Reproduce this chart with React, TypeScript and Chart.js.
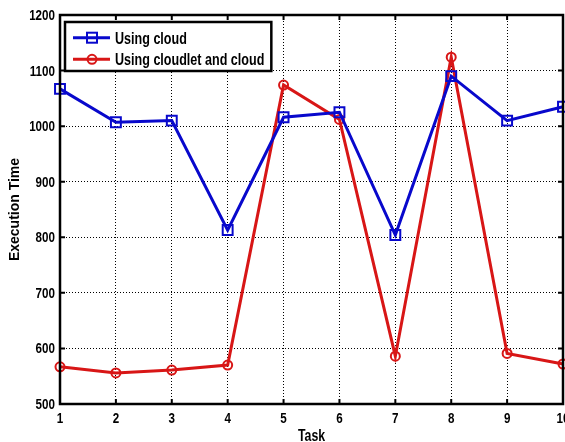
import React, { useEffect, useRef } from "react";
import { Chart, registerables } from "chart.js";

Chart.register(...registerables);

const tasks = ["1", "2", "3", "4", "5", "6", "7", "8", "9", "10"];
const cloudTimes = [1067, 1007, 1010, 813, 1016, 1025, 804, 1090, 1010, 1035];
const cloudletTimes = [567, 556, 561, 570, 1074, 1012, 586, 1124, 591, 572];
const seriesLabels = ["Using cloud", "Using cloudlet and cloud"];
const yMin = 500;
const yMax = 1200;
const yStep = 100;
const xTitle = "Task";
const yTitle = "Execution Time";

const SANS = '"Liberation Sans", Arial, sans-serif';
const BLUE = "#0808cc";
const RED = "#d81616";

// bold "narrow" text: Liberation Sans Bold squeezed horizontally
function narrowText(
  ctx: CanvasRenderingContext2D,
  text: string,
  x: number,
  y: number,
  size: number,
  squeeze: number,
  align: "left" | "right" | "center"
) {
  ctx.save();
  ctx.font = `bold ${size}px ${SANS}`;
  ctx.textBaseline = "alphabetic";
  ctx.textAlign = align;
  ctx.fillStyle = "#000";
  ctx.translate(x, y);
  ctx.scale(squeeze, 1);
  ctx.fillText(text, 0, 0);
  ctx.restore();
}

const framePlugin = {
  id: "frameTicks",
  afterDatasetsDraw(chart: any) {
    const { ctx, chartArea } = chart;
    const { left, right, top, bottom } = chartArea;
    const xs = chart.scales.x;
    const ys = chart.scales.y;
    ctx.save();
    ctx.strokeStyle = "#000";
    ctx.lineWidth = 2;
    ctx.setLineDash([]);
    const tl = 5;
    ctx.beginPath();
    xs.ticks.forEach((_: any, i: number) => {
      const px = xs.getPixelForTick(i);
      ctx.moveTo(px, bottom);
      ctx.lineTo(px, bottom - tl);
      ctx.moveTo(px, top);
      ctx.lineTo(px, top + tl);
    });
    ys.ticks.forEach((_: any, i: number) => {
      const py = ys.getPixelForTick(i);
      ctx.moveTo(left, py);
      ctx.lineTo(left + tl, py);
      ctx.moveTo(right, py);
      ctx.lineTo(right - tl, py);
    });
    ctx.stroke();
    ctx.lineWidth = 2.5;
    ctx.strokeRect(left, top, right - left, bottom - top);
    ctx.restore();

    xs.ticks.forEach((t: any, i: number) => {
      const px = xs.getPixelForTick(i);
      narrowText(ctx, String(xs.getLabelForValue(t.value)), px, bottom + 19, 14, 0.83, "center");
    });
    ys.ticks.forEach((t: any, i: number) => {
      const py = ys.getPixelForTick(i);
      narrowText(ctx, String(t.value), left - 5, py + 5, 14, 0.83, "right");
    });
    narrowText(ctx, xTitle, (left + right) / 2, chart.height - 1, 16, 0.77, "center");
  },
};

const LEGEND_SIZE = 16;
const LEGEND_SQUEEZE = 0.785;

const legendPlugin = {
  id: "boxLegend",
  afterDraw(chart: any) {
    const { ctx, chartArea } = chart;
    const ds = chart.data.datasets;
    ctx.save();
    ctx.font = `bold ${LEGEND_SIZE}px ${SANS}`;
    const textW = Math.max(...ds.map((d: any) => ctx.measureText(d.label).width)) * LEGEND_SQUEEZE;
    const bx = chartArea.left + 5;
    const by = chartArea.top + 7;
    const bw = 50 + textW + 7;
    const rowH = 21.6;
    const bh = 49;
    ctx.fillStyle = "#fff";
    ctx.fillRect(bx, by, bw, bh);
    ctx.strokeStyle = "#000";
    ctx.lineWidth = 2.5;
    ctx.strokeRect(bx, by, bw, bh);
    ds.forEach((d: any, i: number) => {
      const cy = by + 15.7 + i * rowH;
      ctx.strokeStyle = d.borderColor;
      ctx.lineWidth = 3;
      ctx.beginPath();
      ctx.moveTo(bx + 8, cy);
      ctx.lineTo(bx + 45, cy);
      ctx.stroke();
      ctx.lineWidth = 2;
      const mx = bx + 27;
      if (d.pointStyle === "rect") {
        ctx.strokeRect(mx - 5, cy - 5, 10, 10);
      } else {
        ctx.beginPath();
        ctx.arc(mx, cy, 4.5, 0, Math.PI * 2);
        ctx.stroke();
      }
      narrowText(ctx, d.label, bx + 50, cy + 5.8, LEGEND_SIZE, LEGEND_SQUEEZE, "left");
    });
    ctx.restore();
  },
};

export default function App() {
  const ref = useRef<HTMLCanvasElement | null>(null);

  useEffect(() => {
    document.body.style.margin = "0";
    const canvas = ref.current;
    if (!canvas) return;
    const chart = new Chart(canvas, {
      type: "line",
      data: {
        labels: tasks,
        datasets: [
          {
            label: seriesLabels[0],
            data: cloudTimes,
            borderColor: BLUE,
            backgroundColor: "transparent",
            borderWidth: 3,
            pointStyle: "rect",
            pointRadius: 7,
            pointBorderWidth: 2,
            pointBorderColor: BLUE,
            pointBackgroundColor: "transparent",
            tension: 0,
            clip: false as any,
          },
          {
            label: seriesLabels[1],
            data: cloudletTimes,
            borderColor: RED,
            backgroundColor: "transparent",
            borderWidth: 3,
            pointStyle: "circle",
            pointRadius: 4.5,
            pointBorderWidth: 2,
            pointBorderColor: RED,
            pointBackgroundColor: "transparent",
            tension: 0,
            clip: false as any,
          },
        ],
      },
      options: {
        animation: false,
        responsive: false,
        devicePixelRatio: 1,
        layout: { autoPadding: false, padding: { left: 0, top: 15, right: 2, bottom: 0 } },
        plugins: {
          legend: { display: false },
          tooltip: { enabled: false },
        },
        scales: {
          x: {
            type: "category",
            offset: false,
            grid: { color: "#000", lineWidth: 1, drawTicks: false },
            border: { display: false, dash: [1, 2] },
            ticks: { display: false, autoSkip: false, maxRotation: 0 },
            afterFit: (s: any) => {
              s.height = 38;
              s.paddingLeft = 0;
              s.paddingRight = 0;
            },
          },
          y: {
            min: yMin,
            max: yMax,
            grid: { color: "#000", lineWidth: 1, drawTicks: false },
            border: { display: false, dash: [1, 2] },
            ticks: { display: false, stepSize: yStep },
            title: {
              display: true,
              text: yTitle,
              color: "#000",
              padding: { top: 8, bottom: 0 },
              font: { family: SANS, size: 14, weight: "bold", lineHeight: 1 },
            },
            afterFit: (s: any) => {
              s.width = 60;
              s.paddingTop = 0;
              s.paddingBottom = 0;
            },
          },
        },
      },
      plugins: [framePlugin, legendPlugin],
    });
    return () => chart.destroy();
  }, []);

  return <canvas ref={ref} width={565} height={442} style={{ display: "block" }} />;
}
